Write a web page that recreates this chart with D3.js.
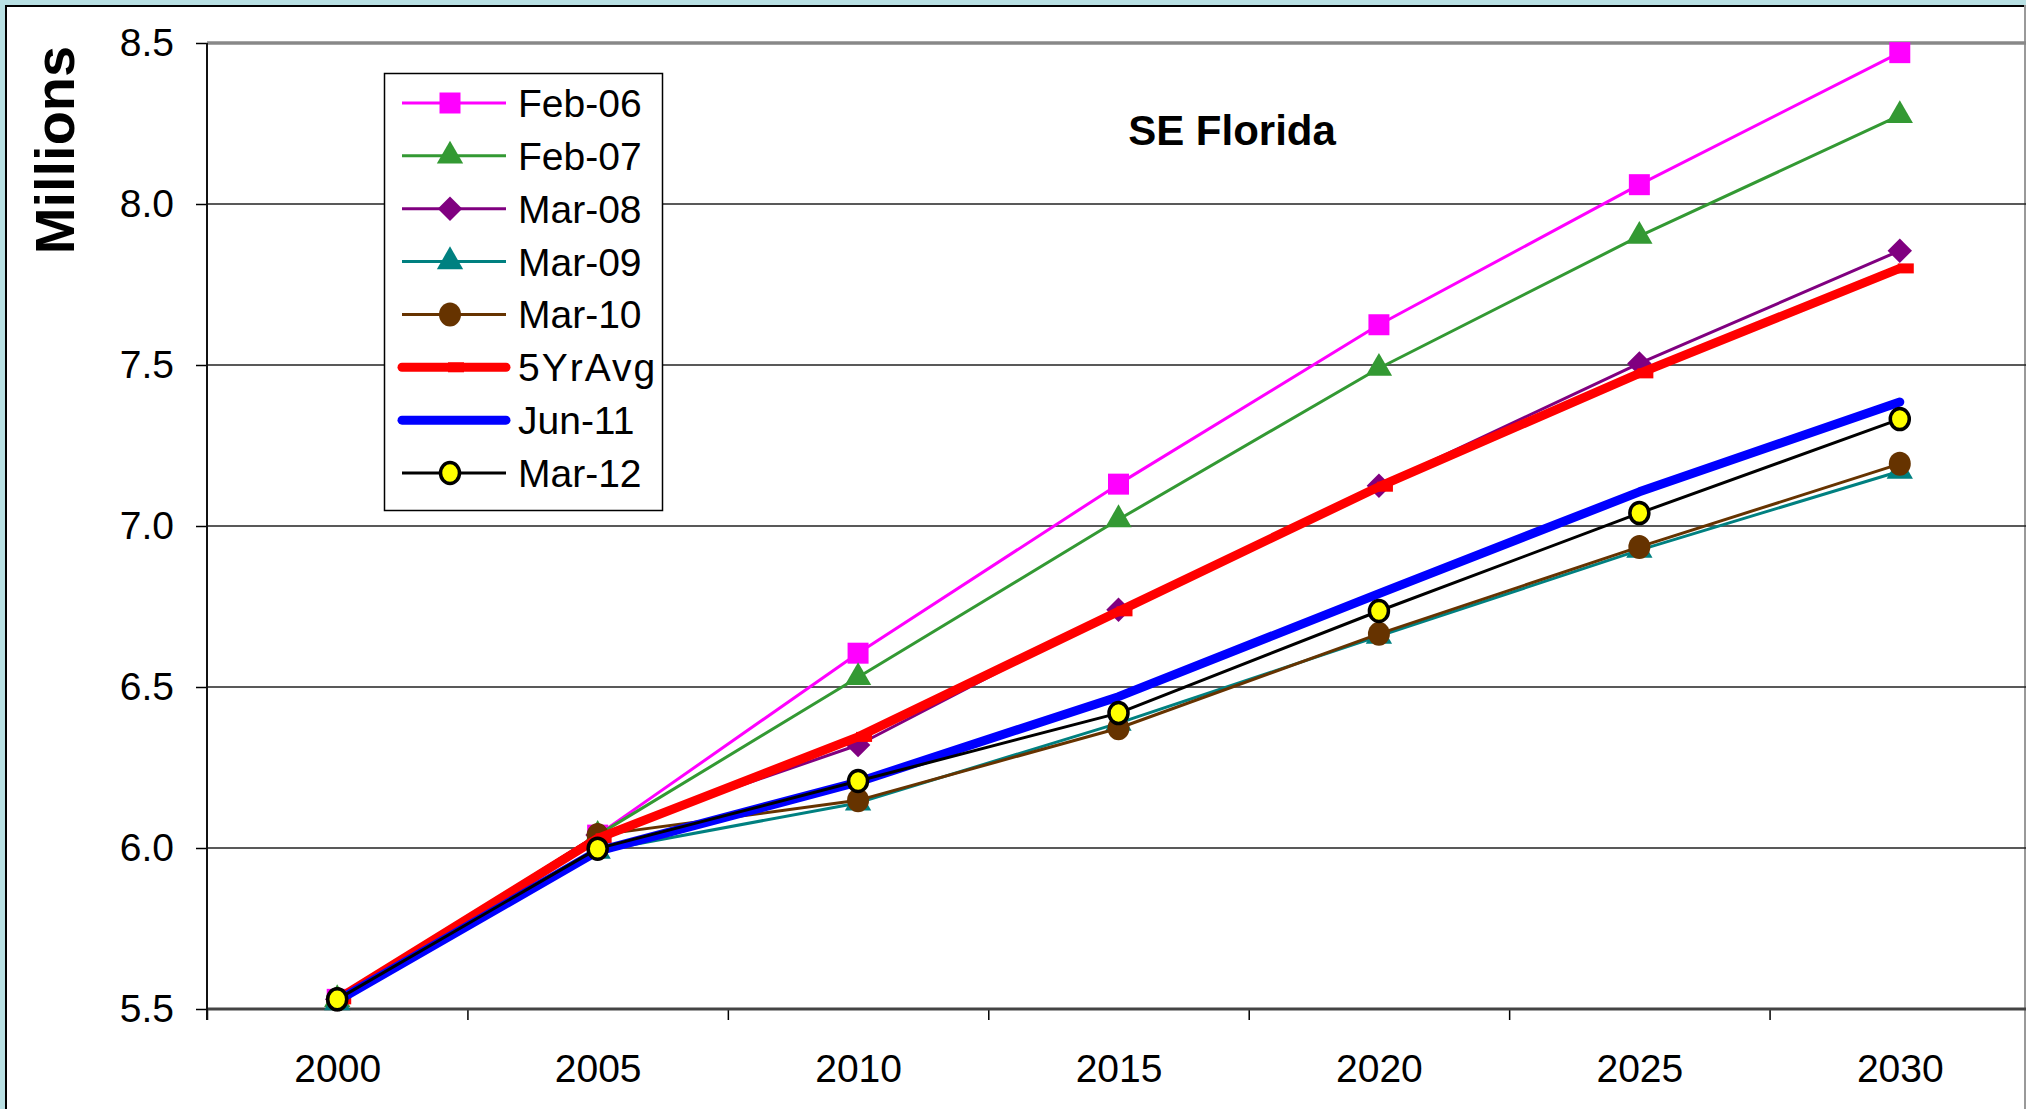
<!DOCTYPE html>
<meta charset="utf-8">
<title>SE Florida</title>
<style>
body {
  margin: 0;
  padding: 0;
  background: #b8e0e3;
  font-family: 'Liberation Sans', Arial, sans-serif;
}
svg { display: block; }
.axis .domain { display: none; }
.axis text {
  font-family: 'Liberation Sans', Arial, sans-serif;
  font-size: 39px;
  fill: #000;
}
.grid line {
  stroke: #222;
  stroke-width: 1.4;
}
</style>
<body>
<svg width="2026" height="1109"></svg>
<script src="https://d3js.org/d3.v7.min.js"></script>
<script>
// data (millions)
var years = [2000, 2005, 2010, 2015, 2020, 2025, 2030];
var seriesNames = ["Feb-06", "Feb-07", "Mar-08", "Mar-09", "Mar-10", "5YrAvg", "Jun-11", "Mar-12"];
var feb06 = [5.53, 6.04, 6.605, 7.13, 7.625, 8.06, 8.47];
var feb07 = [5.53, 6.04, 6.53, 7.02, 7.49, 7.90, 8.275];
var mar08 = [5.53, 6.04, 6.32, 6.74, 7.125, 7.505, 7.855];
var mar09 = [5.52, 5.99, 6.14, 6.388, 6.658, 6.925, 7.17];
var mar10 = [5.53, 6.04, 6.148, 6.372, 6.665, 6.935, 7.193];
var avg5 = [5.53, 6.03, 6.345, 6.735, 7.122, 7.474, 7.80];
var jun11 = [5.525, 5.99, 6.205, 6.47, 6.79, 7.106, 7.385];
var mar12 = [5.53, 5.998, 6.208, 6.419, 6.736, 7.04, 7.332];
var yTicks = [5.5, 6.0, 6.5, 7.0, 7.5, 8.0, 8.5];

var seriesValues = [feb06, feb07, mar08, mar09, mar10, avg5, jun11, mar12];
var colors = ["#ff00ff", "#339933", "#800080", "#008080", "#663300", "#ff0000", "#0000ff", "#000000"];
var widths = [3, 3, 3, 3, 3, 9, 9, 3];
var markers = ["square", "triangle", "diamond", "triangle", "circle", "dash", "none", "ring"];

var svg = d3.select("svg");

// chart frame
svg.append("rect").attr("x", 5).attr("y", 5).attr("width", 2020).attr("height", 1110).attr("fill", "#fff");
svg.append("line").attr("x1", 6).attr("x2", 6).attr("y1", 5).attr("y2", 1109).attr("stroke", "#000").attr("stroke-width", 2);
svg.append("line").attr("x1", 5).attr("x2", 2025).attr("y1", 6).attr("y2", 6).attr("stroke", "#000").attr("stroke-width", 2);
svg.append("line").attr("x1", 2025).attr("x2", 2025).attr("y1", 5).attr("y2", 1109).attr("stroke", "#999").attr("stroke-width", 2);

var plotLeft = 207, plotRight = 2030, plotTop = 43, plotBottom = 1009;

var x = d3.scalePoint()
    .domain(years)
    .range([plotLeft, plotRight])
    .padding(0.5);

var xEdges = d3.scaleLinear()
    .domain([0, years.length])
    .range([plotLeft, plotRight]);

var y = d3.scaleLinear()
    .domain([5.5, 8.5])
    .range([plotBottom, plotTop]);

// gridlines
svg.append("g")
    .attr("class", "grid")
    .selectAll("line")
    .data(yTicks.filter(function(d) { return d > 5.5 && d < 8.5; }))
    .enter().append("line")
    .attr("x1", plotLeft).attr("x2", plotRight)
    .attr("y1", function(d) { return y(d); })
    .attr("y2", function(d) { return y(d); });

// plot border top
svg.append("line")
    .attr("x1", plotLeft).attr("x2", plotRight)
    .attr("y1", y(8.5)).attr("y2", y(8.5))
    .attr("stroke", "#888").attr("stroke-width", 3.5);

// y axis
var yAxis = svg.append("g")
    .attr("class", "axis")
    .attr("transform", "translate(" + plotLeft + ",0)")
    .call(d3.axisLeft(y).tickValues(yTicks).tickFormat(d3.format(".1f")).tickSize(11).tickPadding(22));
yAxis.selectAll(".tick line").attr("stroke", "#000").attr("stroke-width", 1.5);

// x axis: labels centred in categories, ticks between them
svg.append("g")
    .attr("class", "axis")
    .attr("transform", "translate(0," + plotBottom + ")")
    .call(d3.axisBottom(x).tickSize(0).tickPadding(45));

var xTickAxis = svg.append("g")
    .attr("class", "axis")
    .attr("transform", "translate(0," + plotBottom + ")")
    .call(d3.axisBottom(xEdges).tickValues(d3.range(0, years.length + 1)).tickFormat("").tickSize(11));
xTickAxis.selectAll(".tick line").attr("stroke", "#000").attr("stroke-width", 1.5);

svg.append("line")
    .attr("x1", plotLeft).attr("x2", plotRight)
    .attr("y1", plotBottom).attr("y2", plotBottom)
    .attr("stroke", "#444").attr("stroke-width", 3);
svg.append("line")
    .attr("x1", plotLeft).attr("x2", plotLeft)
    .attr("y1", plotTop).attr("y2", plotBottom + 11)
    .attr("stroke", "#111").attr("stroke-width", 2);

// marker drawing
function drawMarker(sel, kind, color) {
  if (kind === "square") {
    sel.append("path").attr("d", d3.symbol(d3.symbolSquare, 441)()).attr("fill", color);
  } else if (kind === "triangle") {
    sel.append("path").attr("d", d3.symbol(d3.symbolTriangle, 300)()).attr("fill", color);
  } else if (kind === "diamond") {
    sel.append("path").attr("d", d3.symbol(d3.symbolSquare, 300)()).attr("transform", "rotate(45)").attr("fill", color);
  } else if (kind === "circle") {
    sel.append("ellipse").attr("rx", 11).attr("ry", 12).attr("fill", color);
  } else if (kind === "dash") {
    sel.append("rect").attr("x", -2).attr("y", -5).attr("width", 16).attr("height", 10).attr("fill", color);
  } else if (kind === "ring") {
    sel.append("ellipse").attr("rx", 9.5).attr("ry", 10.5).attr("fill", "#ffff00").attr("stroke", "#000").attr("stroke-width", 3.5);
  }
}

var line = d3.line()
    .x(function(d, i) { return x(years[i]); })
    .y(function(d) { return y(d); });

seriesNames.forEach(function(name, s) {
  var g = svg.append("g").attr("class", "series");
  g.append("path")
    .attr("d", line(seriesValues[s]))
    .attr("fill", "none")
    .attr("stroke", colors[s])
    .attr("stroke-width", widths[s])
    .attr("stroke-linejoin", "round")
    .attr("stroke-linecap", widths[s] > 5 ? "round" : "butt");
  g.selectAll("g.pt")
    .data(seriesValues[s])
    .enter().append("g")
    .attr("class", "pt")
    .attr("transform", function(d, i) { return "translate(" + x(years[i]) + "," + y(d) + ")"; })
    .each(function() { drawMarker(d3.select(this), markers[s], colors[s]); });
});

// title
svg.append("text")
    .attr("x", 1232).attr("y", 145)
    .attr("text-anchor", "middle")
    .attr("font-size", "42px").attr("font-weight", "bold")
    .text("SE Florida");

// y axis title
svg.append("text")
    .attr("transform", "translate(74,150) rotate(-90)")
    .attr("text-anchor", "middle")
    .attr("font-size", "56px").attr("font-weight", "bold")
    .text("Millions");

// legend
var legend = svg.append("g").attr("class", "legend");
legend.append("rect")
    .attr("x", 384.5).attr("y", 73.5).attr("width", 278).attr("height", 437)
    .attr("fill", "#fff").attr("stroke", "#000").attr("stroke-width", 1.5);

var rowY = d3.scalePoint().domain(seriesNames).range([103, 473]);

seriesNames.forEach(function(name, s) {
  var row = legend.append("g").attr("transform", "translate(0," + rowY(name) + ")");
  row.append("line")
    .attr("x1", 402).attr("x2", 506)
    .attr("stroke", colors[s])
    .attr("stroke-width", widths[s])
    .attr("stroke-linecap", widths[s] > 5 ? "round" : "butt");
  var m = row.append("g").attr("transform", "translate(450,0)");
  drawMarker(m, markers[s], colors[s]);
  row.append("text")
    .attr("x", 518).attr("dy", "0.36em")
    .attr("font-size", "39px")
    .attr("letter-spacing", name === "5YrAvg" ? "2px" : null)
    .text(name);
});
</script>
</body>
